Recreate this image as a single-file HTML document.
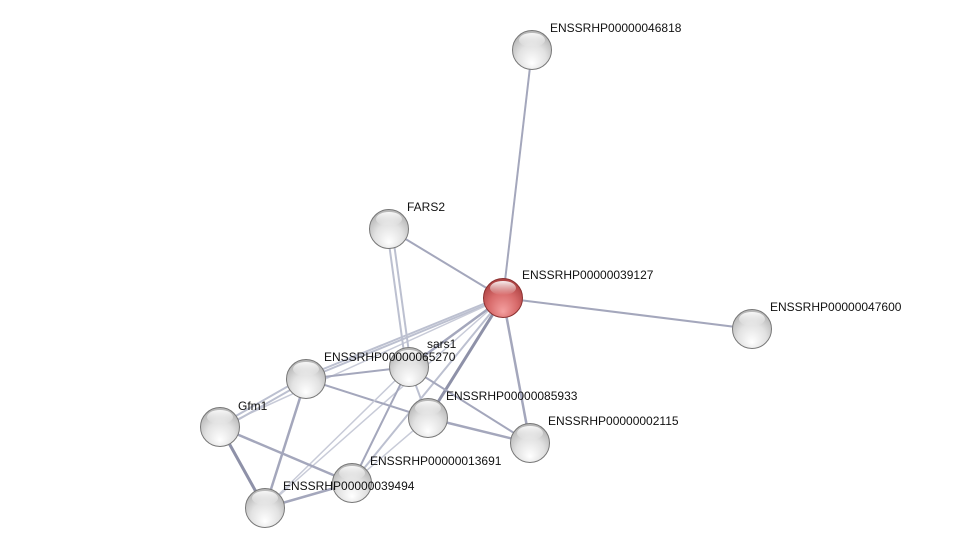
<!DOCTYPE html>
<html><head><meta charset="utf-8"><style>
html,body{margin:0;padding:0;background:#fff;}
svg{display:block}
text{font-family:"Liberation Sans",sans-serif;font-size:12px;fill:#111;}
</style></head><body>
<svg width="976" height="553" viewBox="0 0 976 553">
<defs>
<radialGradient id="g" cx="50%" cy="65%" r="60%" fx="50%" fy="85%">
<stop offset="0" stop-color="#ffffff"/><stop offset="0.6" stop-color="#e2e2e2"/><stop offset="1" stop-color="#b8b8b8"/>
</radialGradient>
<radialGradient id="r" cx="50%" cy="65%" r="60%" fx="50%" fy="85%">
<stop offset="0" stop-color="#f4a0a0"/><stop offset="0.6" stop-color="#d86b6b"/><stop offset="1" stop-color="#b04545"/>
</radialGradient>
<linearGradient id="h" x1="0" y1="0" x2="0" y2="1">
<stop offset="0" stop-color="#fff" stop-opacity="0.9"/><stop offset="1" stop-color="#fff" stop-opacity="0"/>
</linearGradient>
</defs>
<g stroke="#a4a7bc" stroke-width="2" fill="none">
<line x1="503" y1="298" x2="532" y2="50"/>
<line x1="503" y1="298" x2="389" y2="229"/>
<line x1="503" y1="298" x2="752" y2="329"/>
<line x1="503" y1="298" x2="530" y2="443" stroke-width="2.5"/>
<line x1="503" y1="298" x2="428" y2="418" stroke-width="3" stroke="#8e91a8"/>
<line x1="503" y1="298" x2="306" y2="379" stroke="#bcc0d0"/>
<line x1="503" y1="296" x2="306" y2="376" stroke="#bcc0d0"/>
<line x1="503" y1="298" x2="409" y2="367" stroke-width="2.5"/>
<line x1="503" y1="298" x2="352" y2="483" stroke="#bcc0d0"/>
<line x1="503" y1="298" x2="220" y2="427" stroke="#c8cbd8" stroke-width="1.5"/>
<line x1="503" y1="298" x2="265" y2="508" stroke="#c8cbd8" stroke-width="1.5"/>
<line x1="387" y1="229" x2="406" y2="367" stroke="#bcc0d0"/>
<line x1="392" y1="229" x2="411" y2="367" stroke="#bcc0d0"/>
<line x1="306" y1="379" x2="409" y2="367"/>
<line x1="306" y1="379" x2="428" y2="418"/>
<line x1="409" y1="367" x2="530" y2="443"/>
<line x1="409" y1="367" x2="428" y2="418" stroke="#bcc0d0"/>
<line x1="409" y1="367" x2="352" y2="483"/>
<line x1="409" y1="367" x2="265" y2="508" stroke="#c8cbd8" stroke-width="1.5"/>
<line x1="428" y1="418" x2="530" y2="443" stroke-width="2.5"/>
<line x1="428" y1="418" x2="352" y2="483" stroke="#c8cbd8" stroke-width="1.5"/>
<line x1="220" y1="425" x2="306" y2="376" stroke="#bcc0d0"/>
<line x1="220" y1="430" x2="306" y2="381" stroke="#bcc0d0"/>
<line x1="220" y1="427" x2="265" y2="508" stroke-width="3" stroke="#8e91a8"/>
<line x1="220" y1="427" x2="352" y2="483" stroke-width="2.5"/>
<line x1="306" y1="379" x2="265" y2="508" stroke-width="2.5"/>
<line x1="265" y1="508" x2="352" y2="483" stroke-width="2.5"/>
</g>
<g stroke="#777" stroke-width="1">
<circle cx="532" cy="50" r="19.5" fill="url(#g)"/>
<circle cx="389" cy="229" r="19.5" fill="url(#g)"/>
<circle cx="752" cy="329" r="19.5" fill="url(#g)"/>
<circle cx="306" cy="379" r="19.5" fill="url(#g)"/>
<circle cx="409" cy="367" r="19.5" fill="url(#g)"/>
<circle cx="220" cy="427" r="19.5" fill="url(#g)"/>
<circle cx="428" cy="418" r="19.5" fill="url(#g)"/>
<circle cx="530" cy="443" r="19.5" fill="url(#g)"/>
<circle cx="352" cy="483" r="19.5" fill="url(#g)"/>
<circle cx="265" cy="508" r="19.5" fill="url(#g)"/>
<circle cx="503" cy="298" r="19.5" fill="url(#r)" stroke="#8a3030"/>
</g>
<g fill="url(#h)">
<ellipse cx="532" cy="40" rx="13" ry="7"/>
<ellipse cx="389" cy="219" rx="13" ry="7"/>
<ellipse cx="752" cy="319" rx="13" ry="7"/>
<ellipse cx="306" cy="369" rx="13" ry="7"/>
<ellipse cx="409" cy="357" rx="13" ry="7"/>
<ellipse cx="220" cy="417" rx="13" ry="7"/>
<ellipse cx="428" cy="408" rx="13" ry="7"/>
<ellipse cx="530" cy="433" rx="13" ry="7"/>
<ellipse cx="352" cy="473" rx="13" ry="7"/>
<ellipse cx="265" cy="498" rx="13" ry="7"/>
<ellipse cx="503" cy="288" rx="13" ry="7"/>
</g>
<text x="550" y="32">ENSSRHP00000046818</text>
<text x="407" y="211">FARS2</text>
<text x="522" y="279">ENSSRHP00000039127</text>
<text x="770" y="311">ENSSRHP00000047600</text>
<text x="427" y="348">sars1</text>
<text x="324" y="361">ENSSRHP00000065270</text>
<text x="238" y="410">Gfm1</text>
<text x="446" y="400">ENSSRHP00000085933</text>
<text x="548" y="425">ENSSRHP00000002115</text>
<text x="370" y="465">ENSSRHP00000013691</text>
<text x="283" y="490">ENSSRHP00000039494</text>
</svg>
</body></html>
